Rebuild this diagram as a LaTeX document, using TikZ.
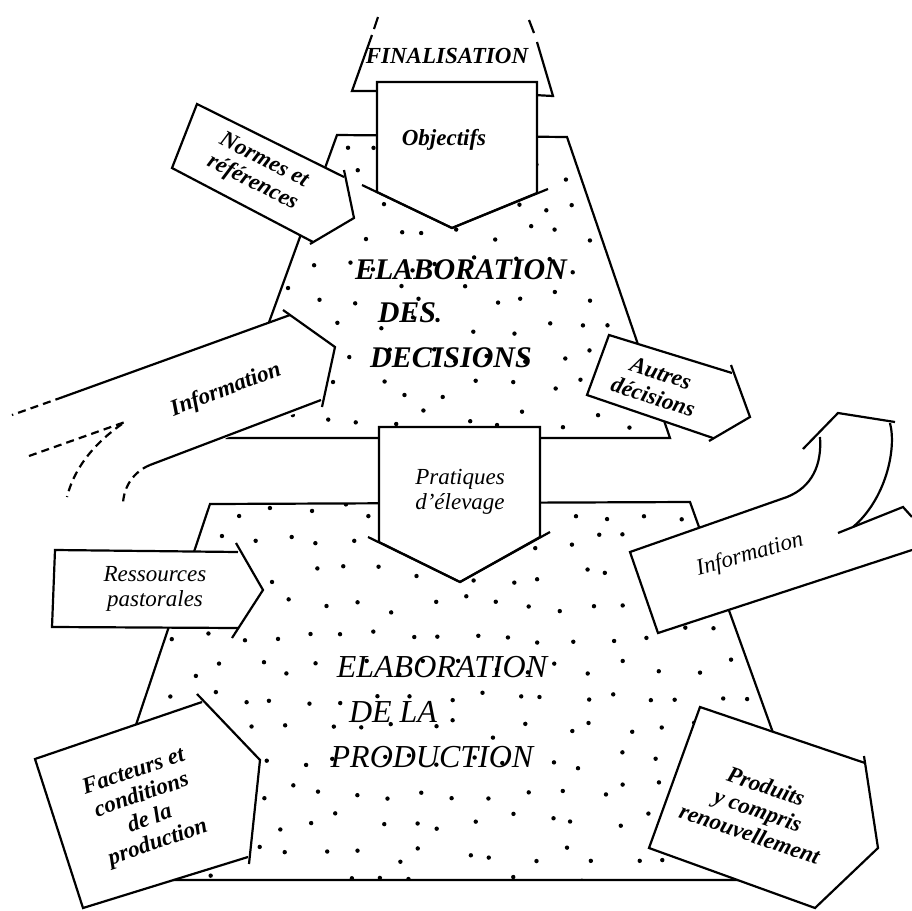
\documentclass[tikz,border=0pt]{standalone}
\usepackage{fontspec}
\setmainfont{Liberation Serif}
\usetikzlibrary{calc}

\begin{document}
\begin{tikzpicture}[x=0.5pt,y=-0.5pt,
  trait/.style={line width=1.1pt, line join=miter},
  tirets/.style={line width=1.1pt, dash pattern=on 4pt off 2.6pt},
  blanc/.style={fill=white, draw=none},
  etiq/.style={font=\fontsize{11.5}{12.5}\selectfont\bfseries\itshape, align=center, inner sep=0pt},
  etiqm/.style={font=\fontsize{11.5}{12.5}\selectfont\itshape, align=center, inner sep=0pt},
  titreD/.style={font=\fontsize{15}{15}\selectfont\bfseries\itshape, inner sep=0pt},
  titreP/.style={font=\fontsize{16}{16}\selectfont\itshape, inner sep=0pt}]
\useasboundingbox (0,0) rectangle (912,911);

% les deux trapezes
\coordinate (DA) at (337,135);
\coordinate (DB) at (567,137);
\coordinate (DC) at (670,438);
\coordinate (DD) at (227,438);
\coordinate (PA) at (210,504);
\coordinate (PB) at (690,502);
\coordinate (PC) at (826,880);
\coordinate (PD) at (84,880);

% pointille
\begin{scope}
\clip (DA) -- (DB) -- (DC) -- (DD) -- cycle (PA) -- (PB) -- (PC) -- (PD) -- cycle;
\pgfmathsetseed{12}
\foreach \r in {0,...,24}
{
	\foreach \c in {0,...,23}
	{
		\pgfmathsetmacro{\px}{70 + 34*\c + 17*mod(\r,2) + 10*rand}
		\pgfmathsetmacro{\py}{140 + 31*\r + 9*rand}
		\fill (\px,\py) circle[radius=1.1pt];
	}
}
\end{scope}

\draw[trait] (DA) -- (DB) -- (DC) -- (DD) -- cycle;
\draw[trait] (PA) -- (PB) -- (PC) -- (PD) -- cycle;

% finalisation
\draw[trait] (380,91) -- (352,91) -- (372,35);
\draw[trait] (374,29) -- (378,17);
\draw[trait] (534,95) -- (553,96) -- (537,42);
\draw[trait] (534,33) -- (529,20);
\node[etiq] (final) at (447,56) {FINALISATION};

% objectifs
\filldraw[trait, fill=white] (377,82) -- (537,82) -- (537,193) -- (452,228) -- (377,192) -- cycle;
\draw[trait] (362,185) -- (452,228) -- (548,189);
\node[etiq] (obj) at (444,140) {Objectifs};

% normes et references
\path[blanc] (197,104) -- (344,176) -- (354,218) -- (313,242) -- (172,168) -- cycle;
\draw[trait] (313,242) -- (172,168) -- (197,104) -- (344,177);
\draw[trait] (344,170) -- (354,218) -- (310,244);
\node[etiq, rotate=-27] (normes) at (258,172) {Normes et\\références};

% information (gauche)
\path[blanc] (63,397) -- (290,315) -- (335,347) -- (322,404) -- (150,465) -- cycle;
\draw[trait] (63,397) -- (290,315);
\draw[trait] (283,310) -- (335,347) -- (322,407);
\draw[trait] (321,400) -- (150,465);
\draw[tirets] (63,397) -- (12,415);
\draw[tirets] (150,465) .. controls (133,472) and (124,487) .. (123,503);
\draw[tirets] (29,456) -- (125,422) .. controls (98,440) and (75,465) .. (67,497);
\node[etiq, rotate=21] (infoG) at (226,390) {Information};

% autres decisions
\path[blanc] (609,335) -- (732,373) -- (750,417) -- (713,438) -- (587,395) -- cycle;
\draw[trait] (713,438) -- (587,395) -- (609,335) -- (732,373);
\draw[trait] (731,365) -- (750,417) -- (709,441);
\node[etiq, rotate=-18] (autres) at (657,385) {Autres\\décisions};

% grands titres
\node[titreD] (elabD) at (461,270) {ELABORATION};
\node[titreD] (des) at (407,313) {DES};
\node[titreD] (decis) at (451,358) {DECISIONS};
\node[titreP] (elabP) at (442,667) {ELABORATION};
\node[titreP] (dela) at (393,712) {DE LA};
\node[titreP] (prod) at (432,757) {PRODUCTION};

% pratiques d'elevage
\filldraw[trait, fill=white] (379,427) -- (540,427) -- (540,537) -- (460,582) -- (379,542) -- cycle;
\draw[trait] (368,537) -- (460,582) -- (550,532);
\node[etiqm] (prat) at (460,492) {Pratiques\\d'élevage};

% ressources pastorales
\path[blanc] (55,550) -- (238,552) -- (263,590) -- (237,628) -- (52,627) -- cycle;
\draw[trait] (238,628) -- (52,627) -- (55,550) -- (238,552);
\draw[trait] (236,543) -- (263,590) -- (232,638);
\node[etiqm] (ress) at (155,589) {Ressources\\pastorales};

% information (droite)
\path[blanc] (658,633) -- (630,552) -- (787,497) .. controls (812,487) and (822,465) .. (820,437)
  -- (803,449) -- (838,413) -- (895,422) -- (890,423) .. controls (897,450) and (885,500) .. (853,527)
  -- (903,507) -- (912,530) -- (912,550) -- cycle;
\draw[trait] (912,550) -- (658,633) -- (630,552) -- (787,497) .. controls (812,487) and (822,465) .. (820,437);
\draw[trait] (803,449) -- (838,413) -- (895,422);
\draw[trait] (890,423) .. controls (897,450) and (885,500) .. (853,527);
\draw[trait] (838,533) -- (903,507) -- (912,517);
\node[etiqm, rotate=16] (infoD) at (750,555) {Information};

% facteurs et conditions
\path[blanc] (35,759) -- (202,702) -- (260,760) -- (248,857) -- (83,908) -- cycle;
\draw[trait] (248,857) -- (83,908) -- (35,759) -- (202,702);
\draw[trait] (197,694) -- (260,760) -- (249,864);
\node[etiq, rotate=19] (fact) at (146,808) {Facteurs et\\conditions\\de la\\production};

% produits
\path[blanc] (700,707) -- (865,763) -- (878,848) -- (815,908) -- (649,848) -- cycle;
\draw[trait] (865,763) -- (700,707) -- (649,848) -- (815,908) -- (878,848) -- (864,756);
\node[etiq, rotate=-19] (produits) at (758,810) {Produits\\y compris\\renouvellement};

\end{tikzpicture}
\end{document}
